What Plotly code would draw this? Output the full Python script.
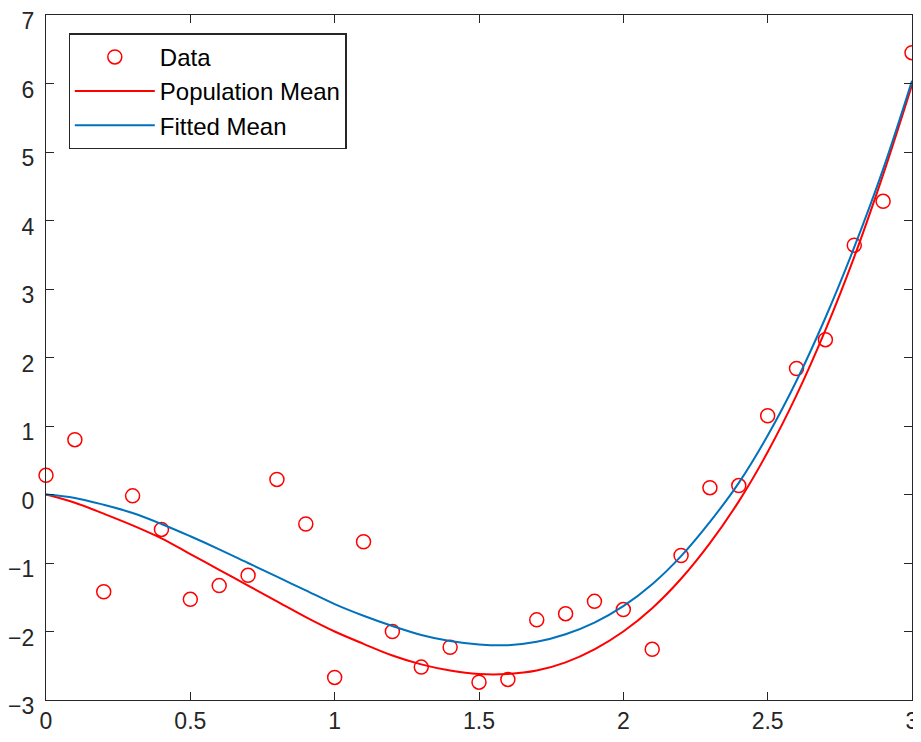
import plotly.graph_objects as go

# Data points
data_x = [0.0, 0.1, 0.2, 0.3, 0.4, 0.5, 0.6, 0.7, 0.8, 0.9, 1.0, 1.1, 1.2, 1.3, 1.4, 1.5,
          1.6, 1.7, 1.8, 1.9, 2.0, 2.1, 2.2, 2.3, 2.4, 2.5, 2.6, 2.7, 2.8, 2.9, 3.0]
data_y = [0.28, 0.80, -1.42, -0.02, -0.51, -1.53, -1.33, -1.18, 0.22, -0.43, -2.67, -0.69,
          -2.00, -2.52, -2.23, -2.74, -2.70, -1.83, -1.74, -1.56, -1.68, -2.26, -0.89, 0.10,
          0.13, 1.15, 1.84, 2.26, 3.64, 4.28, 6.45]

# Curves (at x = 0, 0.1, ..., 3.0)
curve_x = data_x
pop_mean = [0.0, -0.12, -0.28, -0.45, -0.64, -0.87, -1.10, -1.33, -1.56, -1.79, -2.00, -2.18,
            -2.35, -2.48, -2.57, -2.62, -2.62, -2.57, -2.45, -2.26, -2.00, -1.66, -1.23, -0.71,
            -0.10, 0.62, 1.45, 2.40, 3.47, 4.67, 5.98]
fit_mean = [0.0, -0.05, -0.15, -0.27, -0.43, -0.61, -0.80, -1.00, -1.20, -1.40, -1.60, -1.77,
            -1.92, -2.05, -2.14, -2.19, -2.20, -2.15, -2.04, -1.87, -1.63, -1.31, -0.90, -0.40,
            0.17, 0.86, 1.66, 2.58, 3.61, 4.75, 6.04]

FONT = "Arial, Liberation Sans, Helvetica, sans-serif"
AX = "#262626"

fig = go.Figure()
fig.add_trace(go.Scatter(
    x=data_x, y=data_y, mode="markers", name="Data", cliponaxis=False,
    marker=dict(symbol="circle-open", size=14, color="#FF0000", line=dict(width=1.5, color="#FF0000"))
))
fig.add_trace(go.Scatter(
    x=curve_x, y=pop_mean, mode="lines", name="Population Mean",
    line=dict(color="#FF0000", width=2, shape="spline")
))
fig.add_trace(go.Scatter(
    x=curve_x, y=fit_mean, mode="lines", name="Fitted Mean",
    line=dict(color="#0072BD", width=2, shape="spline")
))

axis_common = dict(
    showgrid=False, zeroline=False, showline=True, linecolor=AX, linewidth=1.3,
    mirror="allticks", ticks="inside", ticklen=8, tickcolor=AX, tickwidth=1.3,
    tickfont=dict(family=FONT, size=23, color=AX), automargin=False,
    ticklabeloverflow="allow",
)

fig.update_layout(
    width=913, height=734,
    margin=dict(l=38, r=9, t=7, b=42, autoexpand=False),
    paper_bgcolor="white", plot_bgcolor="white",
    xaxis=dict(range=[0, 3], tickvals=[0, 0.5, 1, 1.5, 2, 2.5, 3],
               ticktext=["0", "0.5", "1", "1.5", "2", "2.5", "3"], **axis_common),
    yaxis=dict(range=[-3, 7], tickvals=list(range(-3, 8)), ticklabelstandoff=6,
               ticklabelshift=6, **axis_common),
    legend=dict(x=0.026, y=0.973, xanchor="left", yanchor="top",
                bgcolor="white", bordercolor=AX, borderwidth=1.3,
                font=dict(family=FONT, size=24, color="#000000"),
                itemwidth=80, tracegroupgap=0),
    showlegend=True,
)

fig.write_html("out.html")
